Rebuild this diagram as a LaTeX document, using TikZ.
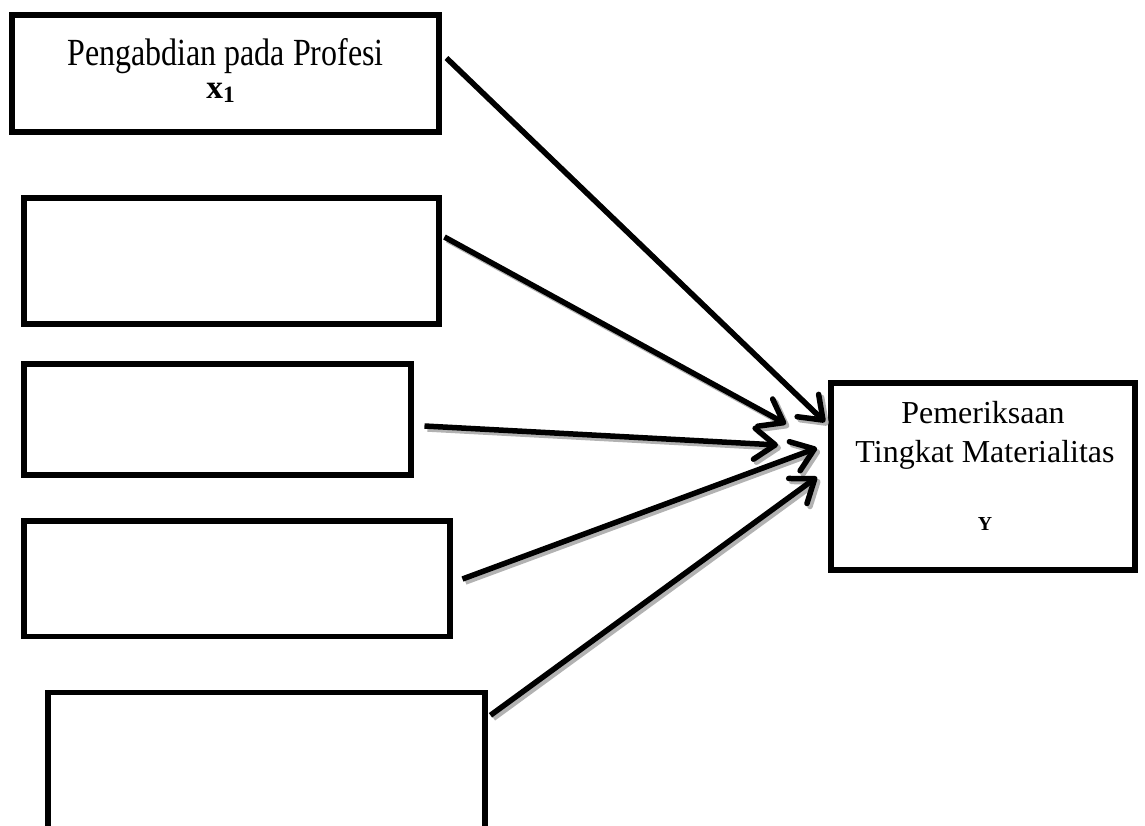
\documentclass[tikz,border=0pt]{standalone}
\usepackage{fontspec}
\setmainfont{Liberation Serif}
\usetikzlibrary{positioning,arrows.meta,calc}

\tikzset{
  varbox/.style={draw, line width=0.11cm, inner sep=0pt},
  label/.style={anchor=base, inner sep=0pt, font=\fontsize{18.2}{22}\selectfont},
  link/.style={line width=0.11cm, -{Straight Barb[round,length=0.42cm,width=0.62cm]}},
  linkshadow/.style={link, draw=gray!60, transform canvas={xshift=0.06cm,yshift=-0.06cm}}
}

\begin{document}
\begin{tikzpicture}[x=0.02cm,y=-0.02cm]
	%% frame of the page
	\useasboundingbox (0,0) rectangle (1145,825);
	\clip (0,0) rectangle (1145,825);

	% independent variables
	\node[varbox, minimum width=8.55cm, minimum height=2.35cm] (b1) at (225.5,73.5) {};
	\node[varbox, minimum width=8.31cm, minimum height=2.53cm] (b2) at (231.5,261) {};
	\node[varbox, minimum width=7.75cm, minimum height=2.23cm] (b3) at (217.5,419.5) {};
	\node[varbox, minimum width=8.53cm, minimum height=2.31cm] (b4) at (237,578.5) {};
	\node[varbox, minimum width=8.75cm, minimum height=4.10cm] (b5) at (266.5,795) {};

	% dependent variable
	\node[varbox, minimum width=6.09cm, minimum height=3.75cm] (y) at (983,476.5) {};

	\node[label] (t1) at (225.5,65) {\scalebox{1}[1.2]{Pengabdian pada Profesi}};
	\node[label, font=\fontsize{19}{22}\selectfont\bfseries] (x1) at (221,98) {x\textsubscript{1}};
	\node[label] (ty1) at (983,423) {Pemeriksaan};
	\node[label] (ty2) at (985,462) {Tingkat Materialitas};
	\node[label, font=\fontsize{11.3}{14}\selectfont\bfseries] (ty3) at (985,530) {Y};

	% start and end of the arrows
	\coordinate (s1) at ($(b1.east)+(4.5,-15.5)$);
	\coordinate (s2) at ($(b2.east)+(2.5,-24)$);
	\coordinate (s3) at ($(b3.east)+(10.5,6.5)$);
	\coordinate (s4) at ($(b4.east)+(9.5,0.5)$);
	\coordinate (s5) at ($(b5.north east)+(2.5,25.5)$);
	\coordinate (e1) at (825,422);
	\coordinate (e2) at (786,424);
	\coordinate (e3) at (778,445);
	\coordinate (e4) at (817,448);
	\coordinate (e5) at (817,477);

	\foreach \i in {1,...,5}
		\draw[linkshadow] (s\i) -- (e\i);
	\foreach \i in {1,...,5}
		\draw[link] (s\i) -- (e\i);
\end{tikzpicture}
\end{document}
